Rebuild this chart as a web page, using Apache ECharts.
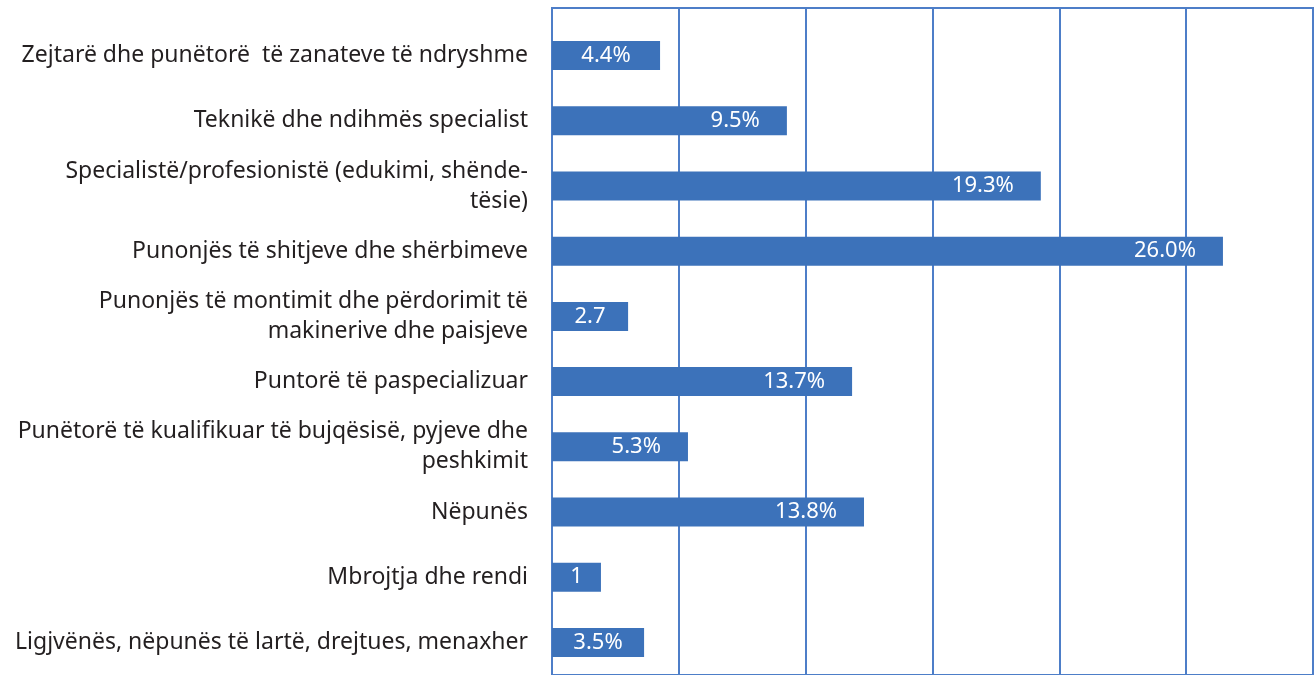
<!DOCTYPE html>
<html>
<head>
<meta charset="utf-8">
<script src="https://cdn.jsdelivr.net/npm/echarts@6/dist/echarts.min.js"></script>
<style>
  html, body { margin: 0; padding: 0; background: #fff; }
  #chart { width: 1315px; height: 675px; }
</style>
</head>
<body>
<div id="chart"></div>
<script>
// categories, top to bottom
const categories = [
  "Zejtarë dhe punëtorë  të zanateve të ndryshme",
  "Teknikë dhe ndihmës specialist",
  "Specialistë/profesionistë (edukimi, shënde-\ntësie)",
  "Punonjës të shitjeve dhe shërbimeve",
  "Punonjës të montimit dhe përdorimit të\nmakinerive dhe paisjeve",
  "Puntorë të paspecializuar",
  "Punëtorë të kualifikuar të bujqësisë, pyjeve dhe\npeshkimit",
  "Nëpunës",
  "Mbrojtja dhe rendi",
  "Ligjvënës, nëpunës të lartë, drejtues, menaxher"
];
// bar lengths as drawn in the picture
const barValues = [4.26, 9.26, 19.27, 26.45, 3.0, 11.83, 5.36, 12.3, 1.93, 3.63];
// labels printed on the bars
const barLabels = ["4.4%", "9.5%", "19.3%", "26.0%", "2.7", "13.7%", "5.3%", "13.8%", "1", "3.5%"];

const lineColor = "#4d7ec8";
const barColor = "#3c72ba";
const font = "Noto Sans";

const chart = echarts.init(document.getElementById("chart"));

// short bars get their label centred, longer ones near the end
const barData = barValues.map((v) =>
  v < 5 ? { value: v, label: { position: "inside" } } : v
);

const option = {
  animation: false,
  textStyle: { fontFamily: font },
  grid: [
    // frame with vertical lines
    { left: 552, right: 2, top: 8, bottom: -5, show: true, borderColor: lineColor, borderWidth: 2 },
    // bars
    { left: 552, right: 2, top: 23, bottom: 0 }
  ],
  xAxis: [
    {
      gridIndex: 0, type: "value", min: 0, max: 30, interval: 5,
      axisLine: { show: false }, axisTick: { show: false }, axisLabel: { show: false },
      splitLine: { show: true, lineStyle: { color: lineColor, width: 2 } }
    },
    {
      gridIndex: 1, type: "value", min: 0, max: 30, interval: 5,
      show: false, splitLine: { show: false }
    }
  ],
  yAxis: [
    { gridIndex: 0, type: "value", show: false, splitLine: { show: false } },
    {
      gridIndex: 1, type: "category", inverse: true, data: categories,
      axisLine: { show: false }, axisTick: { show: false },
      axisLabel: {
        margin: 24, color: "#231f20", fontSize: 23, lineHeight: 30,
        fontFamily: font, align: "right"
      }
    }
  ],
  series: [
    {
      type: "bar", xAxisIndex: 1, yAxisIndex: 1,
      data: barData, barWidth: 29,
      itemStyle: { color: barColor },
      label: {
        show: true, position: "insideRight", distance: 27,
        color: "#fff", fontSize: 22, fontFamily: font,
        formatter: (p) => barLabels[p.dataIndex]
      }
    }
  ]
};

chart.setOption(option);
</script>
</body>
</html>
